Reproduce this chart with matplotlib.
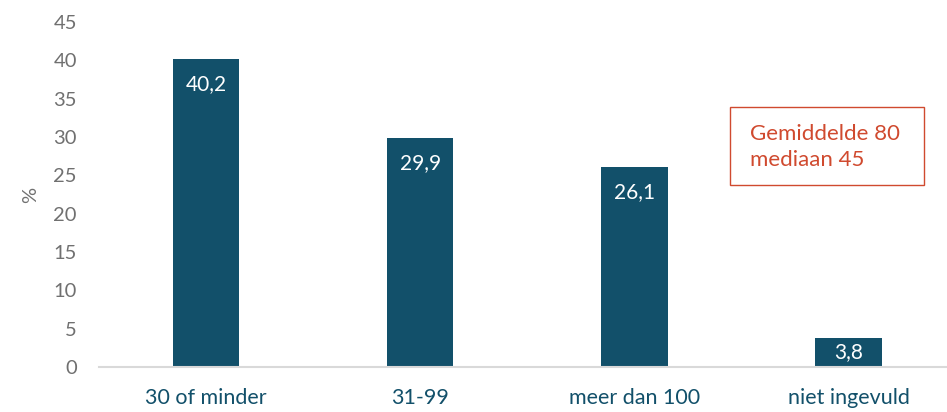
import matplotlib.pyplot as plt
from matplotlib.patches import Rectangle

categories = ['30 of minder', '31-99', 'meer dan 100', 'niet ingevuld']
values = [40.2, 29.9, 26.1, 3.8]
labels = ['40,2', '29,9', '26,1', '3,8']

bar_color = '#12506A'
plt.rcParams['font.family'] = ['Lato', 'DejaVu Sans']

fig = plt.figure(figsize=(9.47, 4.12), dpi=100)
ax = fig.add_axes([99 / 947, 45 / 412, 848 / 947, 345 / 412])

x = range(len(categories))
bars = ax.bar(x, values, width=0.31, color=bar_color, zorder=2)

for b, lab in zip(bars, labels):
    top = b.get_height()
    cx = b.get_x() + b.get_width() / 2
    if top > 10:
        ax.annotate(lab, (cx, top), xytext=(0, -11), textcoords='offset points',
                    ha='center', va='top', color='white', fontsize=15)
    else:
        # short bar: label sits in the middle of the bar
        ax.text(cx, top / 2, lab, ha='center', va='center', color='white', fontsize=15)

ax.set_ylim(0, 45)
ax.set_xlim(-0.5, 3.46)
ax.set_yticks(range(0, 46, 5))
ax.set_xticks(list(x))
ax.set_xticklabels(categories, color=bar_color, fontsize=15.5)
ax.tick_params(axis='y', colors='#707070', labelsize=14.5, length=0, pad=16)
ax.tick_params(axis='x', length=0, pad=15)
ax.set_ylabel('%', color='#707070', fontsize=14.5, labelpad=10)

for s in ['top', 'right', 'left']:
    ax.spines[s].set_visible(False)
ax.spines['bottom'].set_color('#D9D9D9')
ax.spines['bottom'].set_linewidth(1.5)

ax.add_patch(Rectangle((0.744, 0.528), 0.229, 0.226, transform=ax.transAxes,
                       facecolor='white', edgecolor='#D04A2F', linewidth=1, zorder=3))
ax.text(0.768, 0.638, 'Gemiddelde 80\nmediaan 45', transform=ax.transAxes,
        color='#D04A2F', fontsize=16, linespacing=1.35, va='center', ha='left', zorder=4)

fig.savefig('out.png', dpi=100)
